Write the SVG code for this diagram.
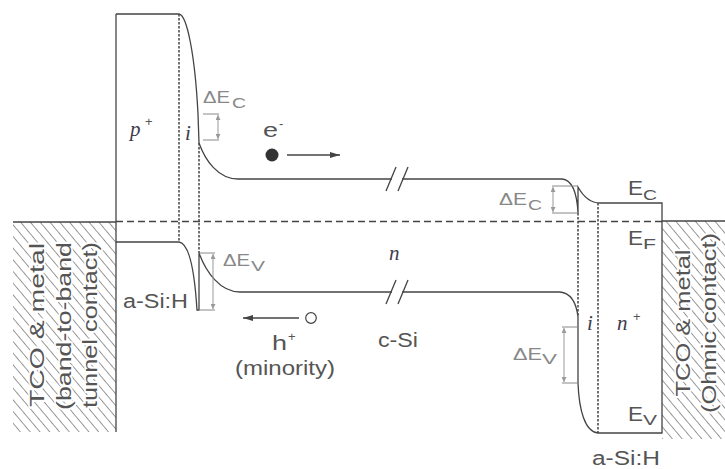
<svg xmlns="http://www.w3.org/2000/svg" width="725" height="469" viewBox="0 0 725 469">
<style>
.band{fill:none;stroke:#444;stroke-width:1.3}
.dot{fill:none;stroke:#444;stroke-width:1.5;stroke-dasharray:2.5,1.5}
.fermi{fill:none;stroke:#444;stroke-width:1.3;stroke-dasharray:7,4}
.br{fill:none;stroke:#888;stroke-width:1}
.arr{fill:none;stroke:#999;stroke-width:1}
.lbl{font-family:"Liberation Sans",Arial,sans-serif;fill:#555;font-size:20px}
.sup{font-family:"Liberation Sans",Arial,sans-serif;fill:#555;font-size:13px}
.de{font-family:"Liberation Sans",Arial,sans-serif;fill:#888;font-size:17px}
.des{font-family:"Liberation Sans",Arial,sans-serif;fill:#888;font-size:14px}
.it{font-family:"Liberation Serif","Times New Roman",serif;font-style:italic;fill:#3c3c4c;font-size:21px}
.rot{font-family:"Liberation Sans",Arial,sans-serif;fill:#555;font-size:21px;text-anchor:middle;stroke:#fff;stroke-width:3.5;paint-order:stroke;stroke-linejoin:round}
</style>
<defs>
<pattern id="hatch" width="7.5" height="7.5" patternUnits="userSpaceOnUse" patternTransform="rotate(-40)">
<line x1="0" y1="0" x2="0" y2="7.5" stroke="#555" stroke-width="1.2"/>
</pattern>
<marker id="ah" viewBox="0 0 10 6" refX="10" refY="3" markerWidth="10" markerHeight="6" markerUnits="userSpaceOnUse" orient="auto">
<path d="M0,0 L10,3 L0,6 Z" fill="#444"/>
</marker>
<marker id="sa" viewBox="0 0 6 6" refX="6" refY="3" markerWidth="6" markerHeight="5" markerUnits="userSpaceOnUse" orient="auto-start-reverse">
<path d="M0,0 L6,3 L0,6 Z" fill="#999"/>
</marker>
</defs>
<rect width="725" height="469" fill="#fff"/>

<g id="contact-left">
<rect x="13" y="222" width="103" height="210" fill="url(#hatch)"/>
<line x1="13" y1="222" x2="116" y2="222" class="band"/>
<text class="rot" transform="translate(44,325) rotate(-90)" textLength="164" lengthAdjust="spacingAndGlyphs">TCO &amp; metal</text>
<text class="rot" transform="translate(71,326) rotate(-90)" textLength="168" lengthAdjust="spacingAndGlyphs">(band-to-band</text>
<text class="rot" transform="translate(97,325) rotate(-90)" textLength="166" lengthAdjust="spacingAndGlyphs">tunnel contact)</text>
</g>

<g id="contact-right">
<rect x="662" y="221" width="63" height="218" fill="url(#hatch)"/>
<line x1="662" y1="221" x2="725" y2="221" class="band"/>
<text class="rot" transform="translate(690,323) rotate(-90)" textLength="147" lengthAdjust="spacingAndGlyphs">TCO &amp; metal</text>
<text class="rot" transform="translate(716,323) rotate(-90)" textLength="180" lengthAdjust="spacingAndGlyphs">(Ohmic contact)</text>
</g>

<g id="bands">
<line x1="116" y1="14" x2="116" y2="432" class="band"/>
<path class="band" d="M116,14 H179 C187,15 195,55 198,114 L199,143 C205,160 218,179 238,179 H392"/>
<path class="band" d="M402,179 H562 C572,180 577,192 578,213 V187 C583,196 590,203 600,203 H662 V433 H598"/>
<path class="band" d="M116,242 H179 C187,243 194,262 197,310 H199 V253 C206,272 220,292 240,292 H392"/>
<path class="band" d="M402,292 H560 C570,293 576,300 578,317 V383 C579,410 585,432 598,433"/>
<line x1="116" y1="221.5" x2="662" y2="221.5" class="fermi"/>
<line x1="179" y1="14" x2="179" y2="242" class="dot"/>
<line x1="199" y1="143" x2="199" y2="253" class="dot"/>
<line x1="578" y1="213" x2="578" y2="317" class="dot"/>
<line x1="598" y1="203" x2="598" y2="433" class="dot"/>
<line x1="386" y1="191" x2="396" y2="167" class="band"/>
<line x1="398" y1="191" x2="408" y2="167" class="band"/>
<line x1="386" y1="304" x2="396" y2="280" class="band"/>
<line x1="398" y1="304" x2="408" y2="280" class="band"/>
</g>

<g id="offsets">
<path class="br" d="M203,114 H219 M203,140 H219"/>
<line x1="218" y1="115" x2="218" y2="139" class="arr" marker-start="url(#sa)" marker-end="url(#sa)"/>
<path class="br" d="M200,253 H215 M200,310 H215"/>
<line x1="213" y1="254" x2="213" y2="309" class="arr" marker-start="url(#sa)" marker-end="url(#sa)"/>
<path class="br" d="M552,186 H577 M552,213 H577"/>
<line x1="553" y1="187" x2="553" y2="212" class="arr" marker-start="url(#sa)" marker-end="url(#sa)"/>
<path class="br" d="M562,327 H577 M562,383 H577"/>
<line x1="564" y1="328" x2="564" y2="382" class="arr" marker-start="url(#sa)" marker-end="url(#sa)"/>
<text class="de" x="203" y="103" textLength="27" lengthAdjust="spacingAndGlyphs">ΔE</text>
<text class="des" x="232" y="108" textLength="14" lengthAdjust="spacingAndGlyphs">C</text>
<text class="de" x="223" y="266" textLength="27" lengthAdjust="spacingAndGlyphs">ΔE</text>
<text class="des" x="251" y="271" textLength="14" lengthAdjust="spacingAndGlyphs">V</text>
<text class="de" x="499" y="205" textLength="28" lengthAdjust="spacingAndGlyphs">ΔE</text>
<text class="des" x="528" y="210" textLength="14" lengthAdjust="spacingAndGlyphs">C</text>
<text class="de" x="513" y="360" textLength="29" lengthAdjust="spacingAndGlyphs">ΔE</text>
<text class="des" x="542" y="364" textLength="15" lengthAdjust="spacingAndGlyphs">V</text>
</g>

<g id="carriers">
<circle cx="272" cy="155" r="6.5" fill="#333"/>
<line x1="287" y1="155" x2="340" y2="155" class="band" marker-end="url(#ah)"/>
<circle cx="311" cy="318" r="5.3" fill="#fff" stroke="#444" stroke-width="1.2"/>
<line x1="299" y1="318" x2="243" y2="318" class="band" marker-end="url(#ah)"/>
<text class="lbl" x="263" y="137" textLength="15" lengthAdjust="spacingAndGlyphs">e</text>
<text class="sup" x="279" y="128">-</text>
<text class="lbl" x="272" y="350" textLength="15" lengthAdjust="spacingAndGlyphs">h</text>
<text class="sup" x="288" y="341">+</text>
<text class="lbl" x="235" y="375" textLength="100" lengthAdjust="spacingAndGlyphs">(minority)</text>
</g>

<g id="labels">
<text class="it" x="130" y="136">p</text>
<text class="sup" x="145" y="126">+</text>
<text class="it" x="185" y="140">i</text>
<text class="it" x="389" y="260">n</text>
<text class="it" x="587" y="330">i</text>
<text class="it" x="617" y="330">n</text>
<text class="sup" x="633" y="321">+</text>
<text class="lbl" x="123" y="308" textLength="65" lengthAdjust="spacingAndGlyphs">a-Si:H</text>
<text class="lbl" x="378" y="347" textLength="40" lengthAdjust="spacingAndGlyphs">c-Si</text>
<text class="lbl" x="592" y="465" textLength="68" lengthAdjust="spacingAndGlyphs">a-Si:H</text>
<text class="lbl" x="628" y="195" textLength="15" lengthAdjust="spacingAndGlyphs">E</text>
<text class="des" style="fill:#555" x="643" y="200" textLength="14" lengthAdjust="spacingAndGlyphs">C</text>
<text class="lbl" x="628" y="245" textLength="15" lengthAdjust="spacingAndGlyphs">E</text>
<text class="des" style="fill:#555" x="643" y="249" textLength="13" lengthAdjust="spacingAndGlyphs">F</text>
<text class="lbl" x="628" y="421" textLength="15" lengthAdjust="spacingAndGlyphs">E</text>
<text class="des" style="fill:#555" x="643" y="425" textLength="14" lengthAdjust="spacingAndGlyphs">V</text>
</g>
</svg>
